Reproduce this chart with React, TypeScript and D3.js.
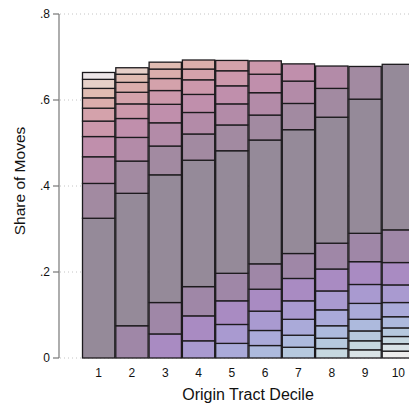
import React from 'react';
import * as d3 from 'd3';

// origin tract deciles (x categories)
const deciles = [1, 2, 3, 4, 5, 6, 7, 8, 9, 10];

// share of moves into destination decile 1..10, one array per origin decile
const origin1 = [0.325, 0.081, 0.062, 0.047, 0.036, 0.030, 0.024, 0.022, 0.021, 0.016];
const origin2 = [0.075, 0.308, 0.075, 0.055, 0.044, 0.034, 0.027, 0.023, 0.019, 0.015];
const origin3 = [0.056, 0.073, 0.297, 0.067, 0.054, 0.043, 0.032, 0.028, 0.022, 0.016];
const origin4 = [0.040, 0.058, 0.068, 0.294, 0.061, 0.050, 0.042, 0.034, 0.025, 0.021];
const origin5 = [0.034, 0.044, 0.055, 0.064, 0.285, 0.060, 0.049, 0.042, 0.035, 0.024];
const origin6 = [0.029, 0.035, 0.045, 0.051, 0.059, 0.288, 0.058, 0.052, 0.043, 0.031];
const origin7 = [0.025, 0.028, 0.037, 0.043, 0.052, 0.058, 0.288, 0.061, 0.052, 0.040];
const origin8 = [0.022, 0.024, 0.029, 0.037, 0.044, 0.051, 0.060, 0.293, 0.067, 0.052];
const origin9 = [0.019, 0.021, 0.023, 0.027, 0.037, 0.044, 0.053, 0.066, 0.312, 0.076];
const origin10 = [0.016, 0.017, 0.017, 0.020, 0.026, 0.033, 0.041, 0.052, 0.076, 0.385];

const shares = [origin1, origin2, origin3, origin4, origin5, origin6, origin7, origin8, origin9, origin10];

const yTicks = [0, 0.2, 0.4, 0.6, 0.8];

// colour by distance (destination - origin): negative = moving down, positive = moving up
const downColors = ['#958a99', '#9f87a7', '#a98bc2', '#a99ad0', '#aaaad9', '#adbadd', '#b6c9de', '#c6d8e0', '#d9e3e6', '#ededed'];
const upColors = ['#958a99', '#a28aa1', '#b38ba8', '#c08fac', '#cc98ab', '#d4a2ab', '#dbaeac', '#e0bcb2', '#e6d0c8', '#ede6e8'];

const colorFor = (diff: number) => (diff < 0 ? downColors[-diff] : upColors[diff]);

const W = 409;
const H = 409;
const font = '"Liberation Sans", Arial, Helvetica, sans-serif';

const App = () => {
  const xScale = d3.scaleBand<number>()
    .domain(deciles)
    .range([82, 415])
    .padding(0);

  const yScale = d3.scaleLinear()
    .domain([0, 0.8])
    .range([358, 14]);

  const fmt = (v: number) => (v === 0 ? '0' : d3.format('.1f')(v).replace(/^0/, ''));

  const axisX = 59;

  const segments = deciles.flatMap((origin, i) => {
    const stack = d3.cumsum(shares[i]);
    return shares[i].map((v, j) => ({
      origin,
      dest: j + 1,
      y0: stack[j] - v,
      y1: stack[j],
    }));
  });

  return (
    <div style={{ position: 'fixed', left: 0, top: 0 }}>
      <svg width={W} height={H} style={{ display: 'block', background: '#fff' }}>
        {/* grid lines */}
        {yTicks.map(t => (
          <line key={'g' + t} x1={axisX + 1} x2={W} y1={yScale(t)} y2={yScale(t)}
            stroke="#c4c4c4" strokeWidth={1} strokeDasharray="1 3" />
        ))}

        {/* stacked bars */}
        {segments.map(s => (
          <rect key={s.origin + '-' + s.dest}
            x={xScale(s.origin)! + 0.5}
            y={yScale(s.y1)}
            width={xScale.bandwidth() - 1}
            height={yScale(s.y0) - yScale(s.y1)}
            fill={colorFor(s.dest - s.origin)}
            stroke="#1c1a1d"
            strokeWidth={1.3} />
        ))}

        {/* y axis */}
        <line x1={axisX} x2={axisX} y1={yScale(0.8)} y2={yScale(0)} stroke="#777" strokeWidth={1.2} />
        {yTicks.map(t => (
          <g key={'t' + t} transform={`translate(0, ${yScale(t)})`}>
            <line x1={axisX - 6} x2={axisX} stroke="#777" strokeWidth={1.2} />
            <text x={axisX - 9} dy="0.35em" textAnchor="end" fontFamily={font} fontSize={12} fill="#111">{fmt(t)}</text>
          </g>
        ))}

        {/* x tick labels */}
        {deciles.map(d => (
          <text key={'x' + d} x={xScale(d)! + xScale.bandwidth() / 2} y={376.5}
            textAnchor="middle" fontFamily={font} fontSize={12} fill="#111">{d}</text>
        ))}

        {/* titles */}
        <text x={248} y={400} textAnchor="middle" fontFamily={font} fontSize={16} fill="#111">Origin Tract Decile</text>
        <text transform={`translate(25, 181) rotate(-90)`} textAnchor="middle" fontFamily={font} fontSize={15.5} fill="#111">Share of Moves</text>
      </svg>
    </div>
  );
};

export default App;
